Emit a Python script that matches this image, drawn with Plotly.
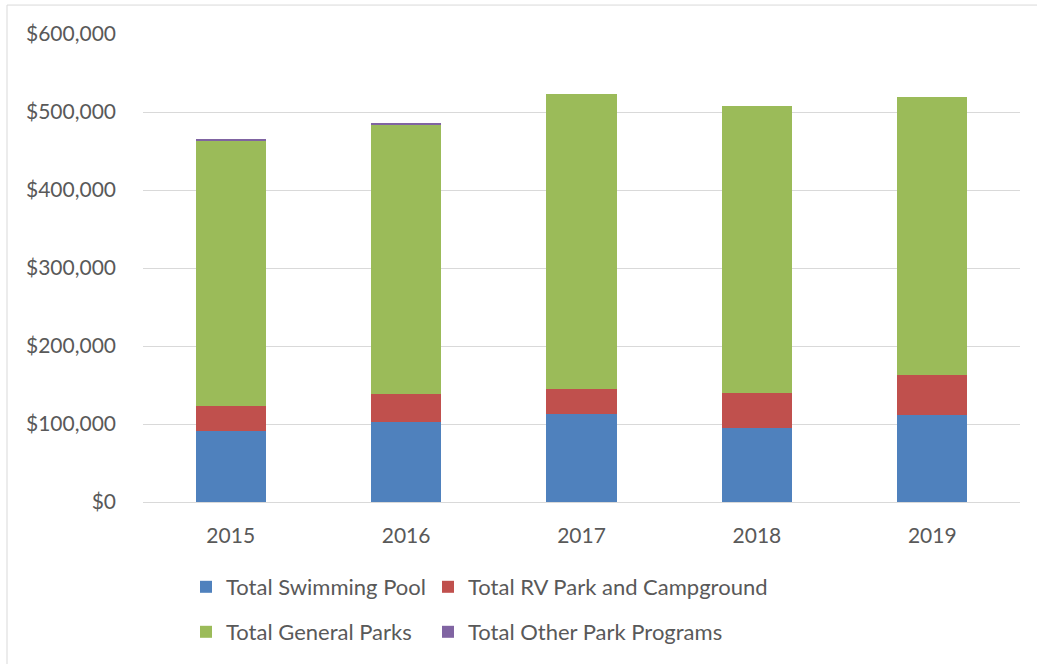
import plotly.graph_objects as go

years = ["2015", "2016", "2017", "2018", "2019"]
swimming_pool = [91000, 103000, 112500, 94500, 112000]
rv_park = [32000, 35500, 32500, 45000, 50500]
general_parks = [340000, 345500, 378200, 368400, 356900]
other_programs = [2600, 2100, 0, 0, 0]

series_names = ["Total Swimming Pool", "Total RV Park and Campground",
                "Total General Parks", "Total Other Park Programs"]
series_values = [swimming_pool, rv_park, general_parks, other_programs]
series_colors = ["#4F81BD", "#C0504D", "#9BBB59", "#8064A2"]
series_legends = ["legend", "legend2", "legend3", "legend4"]

y_ticks = [0, 100000, 200000, 300000, 400000, 500000, 600000]
y_tick_labels = ["$0", "$100,000", "$200,000", "$300,000", "$400,000", "$500,000", "$600,000"]

FONT = "Lato, Open Sans, sans-serif"
TXT = "#595959"

fig = go.Figure()
for name, vals, col, lg in zip(series_names, series_values, series_colors, series_legends):
    fig.add_trace(go.Bar(x=years, y=vals, name=name, marker_color=col,
                         marker_line_width=0, legend=lg, showlegend=True))

W, H = 1037, 664
L, R, T, B = 143, 17, 34, 161
pw, ph = W - L - R, H - T - B

def px_x(x):
    return (x - L) / pw

def px_y(y):
    return (H - B - y) / ph

legend_common = dict(orientation="h", xanchor="left", yanchor="middle",
                     font=dict(family=FONT, size=22, color=TXT),
                     bgcolor="rgba(0,0,0,0)", itemwidth=30, visible=True)

fig.update_layout(
    width=W, height=H,
    margin=dict(l=L, r=R, t=T, b=B, pad=0),
    barmode="stack", bargap=0.6,
    showlegend=True,
    plot_bgcolor="white", paper_bgcolor="white",
    font=dict(family=FONT, size=21, color=TXT),
    xaxis=dict(showgrid=False, ticks="", showline=True, linecolor="#d9d9d9", linewidth=1,
               tickfont=dict(family=FONT, size=21, color=TXT), ticklabelstandoff=15),
    yaxis=dict(range=[0, 600000], tickvals=y_ticks, ticktext=y_tick_labels,
               showgrid=True, gridcolor="#d9d9d9", gridwidth=1, zeroline=False,
               showline=False, ticks="", ticklabelstandoff=26,
               tickfont=dict(family=FONT, size=21, color=TXT)),
    legend=dict(x=px_x(186), y=px_y(587), **legend_common),
    legend2=dict(x=px_x(428), y=px_y(587), **legend_common),
    legend3=dict(x=px_x(186), y=px_y(632), **legend_common),
    legend4=dict(x=px_x(428), y=px_y(632), **legend_common),
    shapes=[
        dict(type="line", xref="paper", yref="paper", x0=px_x(7), x1=px_x(7),
             y0=px_y(5), y1=px_y(670), line=dict(color="#d9d9d9", width=1)),
        dict(type="line", xref="paper", yref="paper", x0=px_x(7), x1=px_x(1040),
             y0=px_y(5), y1=px_y(5), line=dict(color="#d9d9d9", width=1)),
    ],
)

fig.write_html("out.html", config={"displayModeBar": False},
               post_script="document.body.style.margin='0';document.body.style.overflow='hidden';")
